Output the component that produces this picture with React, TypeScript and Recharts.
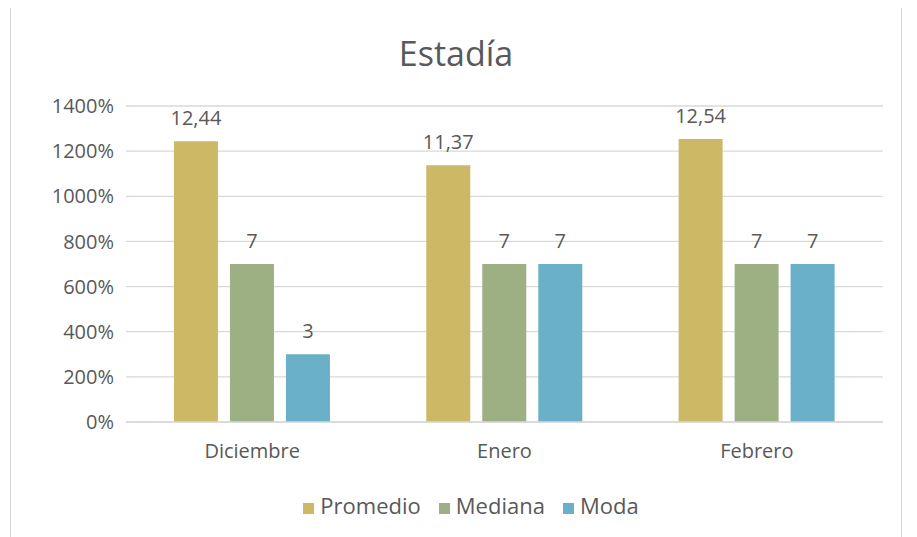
import * as React from 'react';
import { BarChart, Bar, XAxis, YAxis, CartesianGrid, Legend, LabelList } from 'recharts';

// Values as shown on the chart (12,44 is drawn as 1244% on the axis)
const months = ['Diciembre', 'Enero', 'Febrero'];
const promedio = [12.44, 11.37, 12.54];
const mediana = [7, 7, 7];
const moda = [3, 7, 7];
const yTicks = [0, 2, 4, 6, 8, 10, 12, 14];
const seriesOrder = ['Promedio', 'Mediana', 'Moda'];

const COLORS = {
  promedio: '#CDB866',
  mediana: '#9CB084',
  moda: '#6AB0C9',
  grid: '#D9D9D9',
  text: '#595959',
};

const FONT = '"Open Sans", "Noto Sans", sans-serif';

const data = months.map((m, i) => ({
  month: m,
  Promedio: promedio[i],
  Mediana: mediana[i],
  Moda: moda[i],
}));

const fmtLabel = (v: any) => String(v).replace('.', ',');

export default function App() {
  return (
    <div
      style={{
        position: 'relative',
        left: 2,
        top: -2,
        width: 890,
        height: 531,
        border: '1px solid #D9D9D9',
        borderBottom: 'none',
        background: '#fff',
        fontFamily: FONT,
      }}
    >
      <div
        style={{
          position: 'absolute',
          top: 23,
          left: 0,
          width: '100%',
          textAlign: 'center',
          fontSize: 34,
          color: COLORS.text,
        }}
      >
        Estadía
      </div>
      <BarChart
        width={890}
        height={531}
        data={data}
        margin={{ top: 99, right: 18, bottom: 0, left: 0 }}
        barCategoryGap="19%"
        barGap={12}
      >
        <CartesianGrid vertical={false} stroke={COLORS.grid} strokeWidth={1.3} />
        <XAxis
          dataKey="month"
          tickLine={false}
          axisLine={{ stroke: COLORS.grid, strokeWidth: 1.3 }}
          tick={{ fill: COLORS.text, fontSize: 20, fontFamily: FONT }}
          tickMargin={16}
          height={86}
        />
        <YAxis
          domain={[0, 14]}
          ticks={yTicks}
          tickFormatter={(v: number) => `${v * 100}%`}
          axisLine={false}
          tickLine={false}
          tick={{ fill: COLORS.text, fontSize: 20, fontFamily: FONT }}
          width={115}
          tickMargin={6}
        />
        <Legend
          verticalAlign="bottom"
          iconType="square"
          iconSize={11}
          itemSorter={(item: any) => seriesOrder.indexOf(item.value)}
          wrapperStyle={{ fontSize: 22, fontFamily: FONT, top: 483, bottom: 'auto', left: 33 }}
          formatter={(value: string) => <span style={{ color: COLORS.text, marginLeft: 2, marginRight: 8 }}>{value}</span>}
        />
        <Bar dataKey="Promedio" fill={COLORS.promedio} isAnimationActive={false}>
          <LabelList dataKey="Promedio" position="top" offset={16} formatter={fmtLabel} fill={COLORS.text} fontSize={20} fontFamily={FONT} />
        </Bar>
        <Bar dataKey="Mediana" fill={COLORS.mediana} isAnimationActive={false}>
          <LabelList dataKey="Mediana" position="top" offset={16} formatter={fmtLabel} fill={COLORS.text} fontSize={20} fontFamily={FONT} />
        </Bar>
        <Bar dataKey="Moda" fill={COLORS.moda} isAnimationActive={false}>
          <LabelList dataKey="Moda" position="top" offset={16} formatter={fmtLabel} fill={COLORS.text} fontSize={20} fontFamily={FONT} />
        </Bar>
      </BarChart>
    </div>
  );
}
